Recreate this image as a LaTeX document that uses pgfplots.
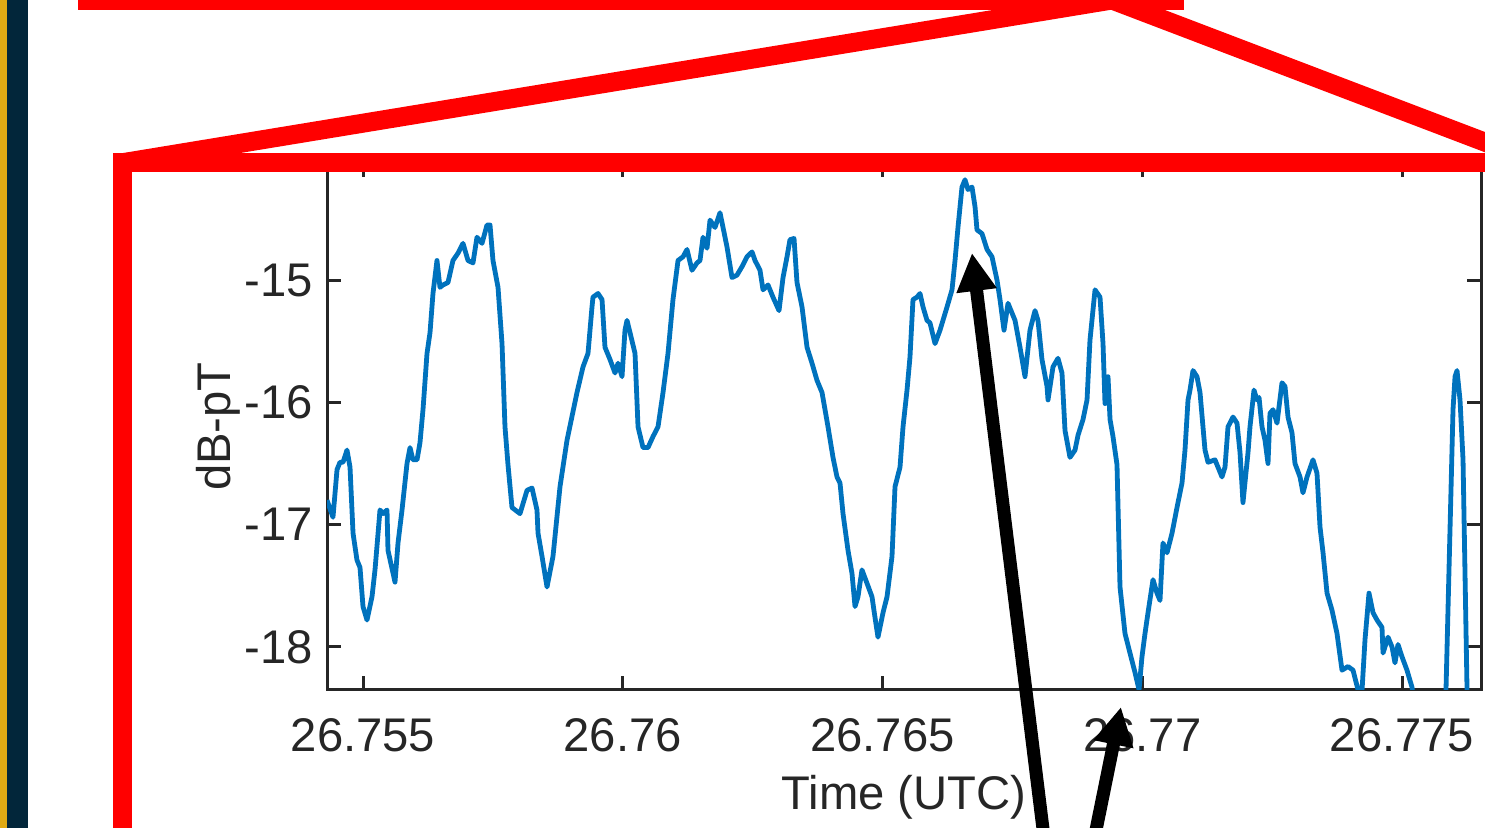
\documentclass[border=0pt]{standalone}
\usepackage{fontspec}
\setmainfont{Liberation Sans}
\usepackage{pgfplots}
\pgfplotsset{compat=1.18}
\usetikzlibrary{arrows.meta}
\definecolor{mblue}{HTML}{0072BD}
\definecolor{axgray}{HTML}{262626}
\definecolor{navy}{HTML}{02263A}
\definecolor{gold}{HTML}{E0AA14}
\pgfplotstableread{
t y
26.754307 -16.80
26.754422 -16.94
26.754500 -16.55
26.754557 -16.49
26.754615 -16.49
26.754692 -16.39
26.754750 -16.53
26.754808 -17.07
26.754884 -17.29
26.754942 -17.35
26.755000 -17.67
26.755077 -17.78
26.755173 -17.59
26.755231 -17.37
26.755327 -16.88
26.755385 -16.91
26.755462 -16.88
26.755481 -17.21
26.755616 -17.47
26.755674 -17.15
26.755751 -16.88
26.755847 -16.50
26.755905 -16.37
26.755962 -16.47
26.756040 -16.47
26.756097 -16.33
26.756155 -16.06
26.756232 -15.60
26.756290 -15.43
26.756347 -15.11
26.756424 -14.84
26.756482 -15.06
26.756540 -15.04
26.756636 -15.02
26.756732 -14.84
26.756829 -14.78
26.756925 -14.70
26.757021 -14.84
26.757117 -14.86
26.757194 -14.65
26.757291 -14.70
26.757387 -14.55
26.757445 -14.55
26.757502 -14.84
26.757599 -15.06
26.757676 -15.52
26.757733 -16.20
26.757791 -16.51
26.757868 -16.86
26.758022 -16.91
26.758157 -16.72
26.758253 -16.70
26.758349 -16.88
26.758369 -17.07
26.758446 -17.26
26.758542 -17.51
26.758657 -17.26
26.758792 -16.69
26.758927 -16.31
26.759119 -15.92
26.759235 -15.71
26.759331 -15.60
26.759408 -15.22
26.759427 -15.14
26.759524 -15.11
26.759601 -15.16
26.759658 -15.55
26.759755 -15.65
26.759851 -15.76
26.759909 -15.68
26.759986 -15.79
26.760043 -15.41
26.760082 -15.33
26.760140 -15.43
26.760236 -15.60
26.760294 -16.20
26.760390 -16.37
26.760486 -16.37
26.760582 -16.28
26.760679 -16.20
26.760775 -15.92
26.760871 -15.60
26.760967 -15.16
26.761064 -14.84
26.761160 -14.81
26.761237 -14.75
26.761333 -14.92
26.761429 -14.86
26.761487 -14.84
26.761545 -14.65
26.761622 -14.74
26.761680 -14.51
26.761776 -14.57
26.761872 -14.45
26.761911 -14.53
26.762007 -14.73
26.762103 -14.98
26.762199 -14.96
26.762296 -14.89
26.762392 -14.81
26.762488 -14.77
26.762546 -14.84
26.762642 -14.92
26.762700 -15.08
26.762796 -15.04
26.762892 -15.14
26.763008 -15.25
26.763085 -14.98
26.763162 -14.81
26.763219 -14.67
26.763297 -14.66
26.763354 -15.02
26.763451 -15.22
26.763547 -15.55
26.763643 -15.68
26.763739 -15.82
26.763836 -15.92
26.763951 -16.20
26.764047 -16.45
26.764124 -16.61
26.764182 -16.66
26.764240 -16.91
26.764336 -17.21
26.764413 -17.40
26.764471 -17.67
26.764528 -17.59
26.764605 -17.37
26.764702 -17.48
26.764798 -17.59
26.764856 -17.76
26.764913 -17.92
26.765010 -17.72
26.765087 -17.59
26.765183 -17.26
26.765241 -16.69
26.765337 -16.53
26.765395 -16.20
26.765472 -15.90
26.765529 -15.63
26.765587 -15.16
26.765664 -15.14
26.765722 -15.11
26.765780 -15.22
26.765857 -15.33
26.765914 -15.35
26.766011 -15.52
26.766107 -15.41
26.766242 -15.22
26.766338 -15.08
26.766396 -14.84
26.766453 -14.57
26.766530 -14.24
26.766588 -14.18
26.766646 -14.26
26.766723 -14.24
26.766781 -14.40
26.766819 -14.59
26.766915 -14.62
26.767012 -14.75
26.767108 -14.81
26.767204 -15.00
26.767262 -15.16
26.767339 -15.41
26.767416 -15.19
26.767493 -15.27
26.767551 -15.33
26.767647 -15.55
26.767743 -15.79
26.767839 -15.41
26.767936 -15.25
26.767993 -15.33
26.768070 -15.65
26.768167 -15.87
26.768186 -15.98
26.768282 -15.71
26.768378 -15.64
26.768455 -15.76
26.768513 -16.23
26.768609 -16.45
26.768706 -16.39
26.768763 -16.27
26.768860 -16.14
26.768937 -15.98
26.768994 -15.49
26.769091 -15.08
26.769187 -15.14
26.769245 -15.52
26.769283 -16.01
26.769341 -15.79
26.769380 -16.14
26.769437 -16.28
26.769514 -16.51
26.769572 -17.51
26.769668 -17.89
26.769764 -18.05
26.769861 -18.21
26.769938 -18.35
26.769995 -18.08
26.770053 -17.89
26.770111 -17.72
26.770207 -17.45
26.770284 -17.56
26.770342 -17.62
26.770399 -17.15
26.770477 -17.23
26.770573 -17.07
26.770669 -16.86
26.770765 -16.66
26.770823 -16.39
26.770881 -15.98
26.770919 -15.90
26.770977 -15.74
26.771054 -15.79
26.771112 -15.92
26.771169 -16.20
26.771208 -16.39
26.771266 -16.49
26.771400 -16.47
26.771535 -16.61
26.771593 -16.53
26.771651 -16.20
26.771747 -16.12
26.771824 -16.17
26.771882 -16.41
26.771939 -16.82
26.772036 -16.41
26.772074 -16.20
26.772151 -15.90
26.772209 -15.98
26.772248 -15.96
26.772305 -16.20
26.772363 -16.31
26.772421 -16.50
26.772459 -16.09
26.772517 -16.06
26.772594 -16.17
26.772690 -15.84
26.772748 -15.87
26.772806 -16.12
26.772883 -16.25
26.772940 -16.50
26.773037 -16.61
26.773094 -16.74
26.773172 -16.61
26.773287 -16.47
26.773364 -16.58
26.773422 -17.02
26.773480 -17.23
26.773557 -17.56
26.773653 -17.70
26.773749 -17.89
26.773845 -18.19
26.773961 -18.16
26.774057 -18.19
26.774153 -18.35
26.774230 -18.36
26.774288 -17.94
26.774365 -17.56
26.774442 -17.72
26.774519 -17.78
26.774615 -17.84
26.774635 -18.05
26.774731 -17.92
26.774808 -18.00
26.774865 -18.13
26.774923 -17.98
26.775000 -18.08
26.775096 -18.19
26.775193 -18.33
26.775270 -18.60
26.775539 -18.80
26.775770 -18.60
26.775847 -18.35
26.775982 -16.06
26.776021 -15.79
26.776059 -15.74
26.776117 -15.98
26.776175 -16.47
26.776252 -18.35
26.776310 -18.70
26.776521 -18.80
}\datatable
\begin{document}
\begin{tikzpicture}
\clip (0,0) rectangle (742.5bp,414bp);
\path[use as bounding box] (0,0) rectangle (742.5bp,414bp);
\begin{scope}[x=0.5bp,y=-0.5bp,shift={(0,414bp)}]
\fill[gold] (0,0) rectangle (7,828);
\fill[navy] (7,0) rectangle (28,828);
\end{scope}
\begin{axis}[
  at={(163.5bp,69bp)}, anchor=south west,
  scale only axis, width=577bp, height=263.5bp,
  xmin=26.754307, xmax=26.776521,
  ymin=-18.352, ymax=-14.043,
  xtick={26.755,26.76,26.765,26.77,26.775},
  xticklabels={26.755,26.76,26.765,26.77,26.775},
  ytick={-18,-17,-16,-15},
  yticklabels={-18,-17,-16,-15},
  tick align=inside, tick pos=both,
  major tick length=7bp,
  axis line style={axgray, line width=1.5bp},
  every tick/.style={axgray, line width=1.5bp},
  tick label style={font=\fontsize{23.7}{28}\selectfont, text=axgray},
  xticklabel style={anchor=north, inner sep=0pt, yshift=-14bp},
  yticklabel style={anchor=east, inner sep=0pt, xshift=-7bp},
  label style={font=\fontsize{23.7}{28}\selectfont, text=axgray},
  xlabel={Time (UTC)},
  ylabel={dB-pT},
  xlabel style={at={(rel axis cs:0.5,0)}, anchor=center, yshift=-53.5bp},
  ylabel style={at={(rel axis cs:0,0.5)}, anchor=center, yshift=54.5bp},
]
\addplot[mblue, line width=2.4bp, line join=round] table[x=t, y=y] {\datatable};
\end{axis}
\begin{scope}[x=0.5bp,y=-0.5bp,shift={(0,414bp)}]
\fill[red] (78,-30) rectangle (1184,10);
\draw[red, line width=9.5bp] (1112,0) -- (121,163);
\draw[red, line width=9.5bp] (1112,0) -- (1600,186);
\draw[red, line width=9.5bp] (122.5,162.5) rectangle (1700,1000);
\draw[black, line width=6.5bp, -{Triangle[length=19bp,width=19bp]}] (1045,845) -- (972,253);
\draw[black, line width=6.5bp, -{Triangle[length=19bp,width=19bp]}] (1093,845) -- (1121,707);
\end{scope}
\end{tikzpicture}
\end{document}
